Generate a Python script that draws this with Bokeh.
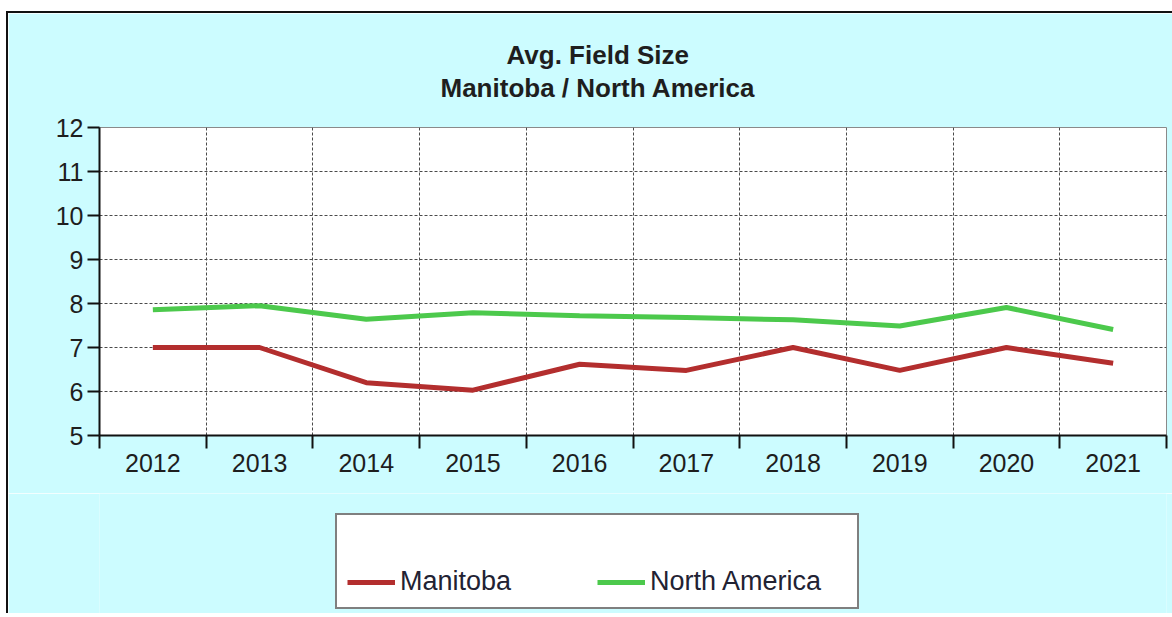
from bokeh.plotting import figure
from bokeh.layouts import column
from bokeh.models import (Range1d, FixedTicker, Title, Legend,
                          LegendItem, ColumnDataSource)
from bokeh.embed import file_html
from bokeh.resources import INLINE

# ---- data ----
years = ["2012", "2013", "2014", "2015", "2016", "2017", "2018", "2019", "2020", "2021"]
manitoba = [7.0, 7.0, 6.2, 6.03, 6.62, 6.48, 7.0, 6.48, 7.0, 6.64]
north_america = [7.86, 7.95, 7.64, 7.79, 7.72, 7.68, 7.63, 7.49, 7.91, 7.41]
y_ticks = [5, 6, 7, 8, 9, 10, 11, 12]
title_line1 = "Avg. Field Size"
title_line2 = "Manitoba / North America"
series_names = ["Manitoba", "North America"]

FONT = "Liberation Sans"
RED = "#B32E2E"
GREEN = "#4CC94C"
BG = "#CCFCFF"
TXT = "#1e1e1e"

n = len(years)
# category slot i occupies [i, i+1]; points sit at the slot centre
xpos = [i + 0.5 for i in range(n)]
source = ColumnDataSource(dict(x=xpos, year=years, manitoba=manitoba, na=north_america))

p = figure(width=1164, height=480, output_backend="svg", toolbar_location=None,
           title=None,
           x_range=Range1d(0, n), y_range=Range1d(min(y_ticks), max(y_ticks)),
           min_border_left=91, min_border_right=6, min_border_top=114,
           min_border_bottom=58,
           background_fill_color="white", border_fill_color=BG,
           outline_line_color="#8a8a8a", outline_line_width=1)

# titles (first added is nearest the frame); a blank spacer lifts them up
p.add_layout(Title(text=" ", text_font_size="10px", standoff=11), "above")
p.add_layout(Title(text=title_line2, align="left", offset=341, standoff=2,
                   text_font=FONT, text_font_size="26px", text_font_style="bold",
                   text_color=TXT), "above")
p.add_layout(Title(text=title_line1, align="left", offset=407, standoff=0,
                   text_font=FONT, text_font_size="26px", text_font_style="bold",
                   text_color=TXT), "above")

# lines
r1 = p.line(x="x", y="manitoba", source=source, line_color=RED, line_width=5)
r2 = p.line(x="x", y="na", source=source, line_color=GREEN, line_width=5)

# x axis: labels at category centres, tick marks at category boundaries
xa = p.xaxis[0]
xa.ticker = FixedTicker(ticks=xpos, minor_ticks=list(range(n + 1)))
xa.major_label_overrides = {x: y for x, y in zip(xpos, years)}
xa.major_tick_out = 0
xa.major_tick_in = 0
xa.minor_tick_out = 13
xa.minor_tick_in = 0
xa.minor_tick_line_color = "#111"
xa.minor_tick_line_width = 2
xa.axis_line_color = "#111"
xa.axis_line_width = 2
xa.major_label_standoff = 5
xa.major_label_text_font = FONT
xa.major_label_text_font_size = "25px"
xa.major_label_text_color = TXT

ya = p.yaxis[0]
ya.ticker = FixedTicker(ticks=y_ticks)
ya.major_tick_out = 12
ya.major_tick_in = 0
ya.minor_tick_out = 0
ya.minor_tick_in = 0
ya.major_tick_line_color = "#111"
ya.major_tick_line_width = 2
ya.axis_line_color = "#111"
ya.axis_line_width = 2
ya.major_label_standoff = 4
ya.major_label_text_font = FONT
ya.major_label_text_font_size = "25px"
ya.major_label_text_color = TXT

# grids
p.xgrid.ticker = FixedTicker(ticks=list(range(1, n)))
for g in (p.xgrid[0], p.ygrid[0]):
    g.grid_line_color = "#4a4a4a"
    g.grid_line_dash = "3 2"
    g.grid_line_width = 1

# ---- legend strip below the chart ----
q = figure(width=1164, height=120, output_backend="svg", toolbar_location=None,
           title=None, x_range=Range1d(0, n), y_range=Range1d(100, 101),
           x_axis_location=None, y_axis_location=None,
           min_border=0, min_border_left=0, min_border_right=0,
           min_border_top=0, min_border_bottom=0,
           background_fill_color=BG, border_fill_color=BG, outline_line_color=None)
q.grid.visible = False
# same series, drawn outside the strip's visible range; used only as legend keys
k1 = q.line(x="x", y="manitoba", source=source, line_color=RED, line_width=5)
k2 = q.line(x="x", y="na", source=source, line_color=GREEN, line_width=5)

legend = Legend(items=[LegendItem(label=series_names[0], renderers=[k1]),
                       LegendItem(label=series_names[1], renderers=[k2])],
                orientation="horizontal", location=(236, 4),
                glyph_width=48, glyph_height=20, label_standoff=5, label_width=197,
                spacing=0, padding=10, margin=0,
                border_line_color="black", border_line_width=2,
                background_fill_color="white", background_fill_alpha=1.0,
                label_text_font=FONT, label_text_font_size="27px",
                label_text_color="#222233",
                title=" ", title_text_font_size="27px", title_standoff=10)
q.add_layout(legend, "center")

layout = column(p, q, spacing=0,
                styles={"margin-left": "6px", "margin-top": "11px",
                        "border-left": "2px solid #111", "border-top": "2px solid #111"})

open("out.html", "w").write(file_html(layout, INLINE))
